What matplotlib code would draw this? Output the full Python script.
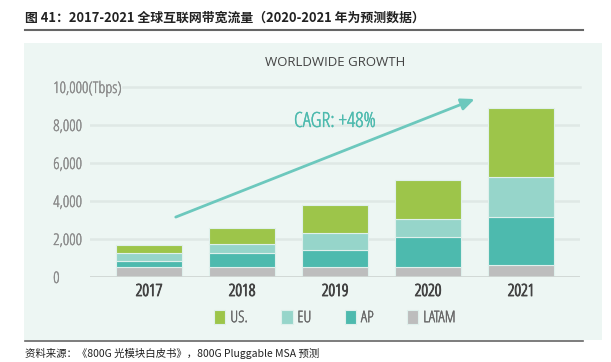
import matplotlib.pyplot as plt
import matplotlib.patches as mpatches
import matplotlib.patheffects as pe
import numpy as np

plt.rcParams['font.family'] = ['Open Sans', 'DejaVu Sans']
plt.rcParams['font.stretch'] = 'condensed'

# Global internet bandwidth by region (Tbps), 2020-2021 forecast
years = ["2017", "2018", "2019", "2020", "2021"]
latam = [510, 510, 510, 510, 630]
ap = [330, 740, 910, 1580, 2540]
eu = [440, 470, 910, 950, 2110]
us = [400, 860, 1460, 2060, 3600]

series = [("LATAM", latam, "#bdbdbd"),
          ("AP", ap, "#4dbaae"),
          ("EU", eu, "#96d5ca"),
          ("US.", us, "#9dc54a")]

W, H = 611, 362
fig = plt.figure(figsize=(W / 100, H / 100), dpi=100)

# light panel behind the chart
fig.patches.append(mpatches.Rectangle((24 / W, 22 / H), 578 / W, 297 / H,
                                      transform=fig.transFigure, facecolor="#edf6f3",
                                      edgecolor="none", zorder=-5))

# title and separator lines
fig.text(25 / W, 1 - 18 / H, "图 41：2017-2021 全球互联网带宽流量（2020-2021 年为预测数据）",
         family=["Noto Sans CJK SC", "DejaVu Sans"], fontsize=9.3, fontweight="bold",
         fontstretch="normal", color="#222222", va="center", ha="left")
fig.add_artist(plt.Line2D([25 / W, 583 / W], [1 - 30 / H, 1 - 30 / H],
                          transform=fig.transFigure, color="#666666", lw=1.5))
fig.add_artist(plt.Line2D([25 / W, 583 / W], [1 - 341 / H, 1 - 341 / H],
                          transform=fig.transFigure, color="#666666", lw=1.2))
fig.text(25 / W, 1 - 353 / H, "资料来源：《800G 光模块白皮书》，800G Pluggable MSA 预测",
         family=["Noto Sans CJK SC", "DejaVu Sans"], fontsize=7.5, fontstretch="normal",
         color="#222222", va="center", ha="left")

fig.text(335 / W, 1 - 63 / H, "WORLDWIDE GROWTH", family=["Open Sans", "DejaVu Sans"],
         fontsize=9.5, fontstretch="normal", color="#444444", ha="center", va="center")

ax = fig.add_axes([90 / W, (H - 277) / H, 490 / W, 190 / H])
ax.set_facecolor("none")

x = np.arange(len(years))
bottom = np.zeros(len(years))
handles = {}
for name, vals, col in series:
    b = ax.bar(x, vals, width=0.71, bottom=bottom, color=col,
               edgecolor="#dff0ec", linewidth=0.8, zorder=3)
    handles[name] = b
    bottom += np.array(vals)

ax.set_xlim(-0.634, 4.634)
ax.set_ylim(0, 10000)

yt = [0, 2000, 4000, 6000, 8000, 10000]
for v in yt[1:-1]:
    ax.axhline(v, color="#dfe8e5", lw=1.8, zorder=1)
ax.axhline(10000, xmin=(123 - 90) / 490, color="#dfe8e5", lw=1.8, zorder=1, clip_on=False)
ax.axhline(0, color="#cfd6d3", lw=2, zorder=4)

ax.set_yticks(yt)
ax.set_yticklabels(["0", "2,000", "4,000", "6,000", "8,000", "10,000(Tbps)"])
ax.tick_params(axis="y", length=0, pad=26.5, labelsize=11.5, labelcolor="#8a8a8a")
for lbl in ax.get_yticklabels():
    lbl.set_horizontalalignment("left")
    lbl.set_path_effects([pe.withStroke(linewidth=0.25, foreground="#8a8a8a")])

ax.set_xticks(x)
ax.set_xticklabels(years)
ax.tick_params(axis="x", length=0, pad=5, labelsize=12, labelcolor="#444444")
for lbl in ax.get_xticklabels():
    lbl.set_path_effects([pe.withStroke(linewidth=0.7, foreground="#444444")])

for s in ax.spines.values():
    s.set_visible(False)

# growth arrow
ax.annotate("", xy=(3.53, 9420), xytext=(0.26, 3100),
            arrowprops=dict(arrowstyle="-|>,head_length=0.8,head_width=0.35",
                            color="#6cc8bd", lw=2), zorder=5)
ax.text(2.0, 8160, "CAGR: +48%", color="#4dbaae", fontsize=15,
        ha="center", va="center", zorder=5,
        path_effects=[pe.withStroke(linewidth=0.3, foreground="#4dbaae")])

order = ["US.", "EU", "AP", "LATAM"]
leg = fig.legend([handles[n] for n in order], order, loc="center",
                 bbox_to_anchor=(335 / W, 1 - 318 / H), ncol=4, frameon=False,
                 handlelength=0.7, handleheight=0.95, handletextpad=0.3,
                 columnspacing=2.1, fontsize=11.5)
for t in leg.get_texts():
    t.set_color("#666666")
    t.set_path_effects([pe.withStroke(linewidth=0.25, foreground="#666666")])

fig.savefig("out.png", dpi=100)
